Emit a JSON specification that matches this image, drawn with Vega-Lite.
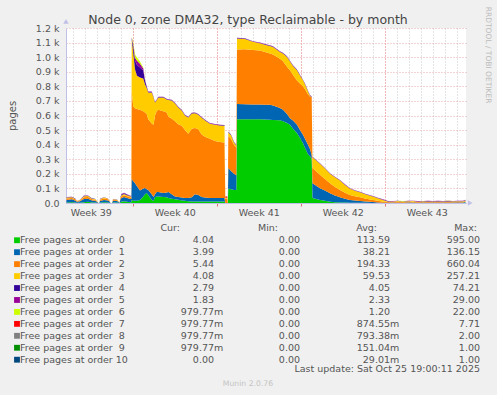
{
  "$schema": "https://vega.github.io/schema/vega-lite/v6.json",
  "width": 400,
  "height": 175,
  "autosize": {"type": "none"},
  "padding": {"left": 66, "top": 28, "right": 31, "bottom": 192},
  "background": "#f0f0f0",
  "title": {"text": "Node 0, zone DMA32, type Reclaimable - by month", "frame": "group", "anchor": "middle", "dx": -18, "offset": -20, "fontSize": 12.5, "fontWeight": "normal", "color": "#444444", "font": "DejaVu Sans"},
  "config": {"view": {"stroke": null, "fill": "white"}, "font": "DejaVu Sans"},
  "resolve": {"scale": {"x": "independent", "y": "independent", "color": "independent", "shape": "independent"}},
  "layer": [
    {
      "data": {"values": [
        {"t":"2025-09-23T11:36:00Z","o0":3,"o1":18,"o2":10,"o3":6,"o4":3,"o5":2,"o6":0,"o7":0},
        {"t":"2025-09-23T22:36:00Z","o0":5,"o1":20,"o2":10,"o3":5,"o4":2,"o5":1,"o6":0,"o7":0},
        {"t":"2025-09-24T04:36:00Z","o0":3,"o1":15,"o2":8,"o3":4,"o4":2,"o5":1,"o6":0,"o7":0},
        {"t":"2025-09-24T08:36:00Z","o0":2,"o1":7,"o2":4,"o3":2,"o4":1,"o5":0,"o6":0,"o7":0},
        {"t":"2025-09-24T14:36:00Z","o0":2,"o1":10,"o2":6,"o3":3,"o4":1,"o5":1,"o6":0,"o7":0},
        {"t":"2025-09-24T22:36:00Z","o0":5,"o1":22,"o2":12,"o3":8,"o4":2,"o5":2,"o6":0,"o7":0},
        {"t":"2025-09-25T06:36:00Z","o0":8,"o1":22,"o2":12,"o3":6,"o4":2,"o5":1,"o6":0,"o7":0},
        {"t":"2025-09-25T14:36:00Z","o0":4,"o1":14,"o2":8,"o3":4,"o4":2,"o5":1,"o6":0,"o7":0},
        {"t":"2025-09-25T20:36:00Z","o0":3,"o1":12,"o2":8,"o3":4,"o4":2,"o5":1,"o6":0,"o7":0},
        {"t":"2025-09-26T00:36:00Z","o0":2,"o1":6,"o2":4,"o3":2,"o4":0,"o5":0,"o6":0,"o7":0},
        {"t":"2025-09-26T03:36:00Z","o0":0,"o1":0,"o2":0,"o3":0,"o4":0,"o5":0,"o6":0,"o7":0},
        {"t":"2025-09-26T05:12:00Z","o0":0,"o1":0,"o2":0,"o3":0,"o4":0,"o5":0,"o6":0,"o7":0},
        {"t":"2025-09-26T06:36:00Z","o0":2,"o1":12,"o2":8,"o3":4,"o4":2,"o5":1,"o6":0,"o7":0},
        {"t":"2025-09-26T14:36:00Z","o0":5,"o1":16,"o2":10,"o3":6,"o4":2,"o5":1,"o6":0,"o7":0},
        {"t":"2025-09-26T22:36:00Z","o0":3,"o1":14,"o2":8,"o3":4,"o4":1,"o5":1,"o6":0,"o7":0},
        {"t":"2025-09-27T01:36:00Z","o0":2,"o1":8,"o2":5,"o3":2,"o4":1,"o5":0,"o6":0,"o7":0},
        {"t":"2025-09-27T03:36:00Z","o0":0,"o1":0,"o2":0,"o3":0,"o4":0,"o5":0,"o6":0,"o7":0},
        {"t":"2025-09-27T06:36:00Z","o0":0,"o1":0,"o2":0,"o3":0,"o4":0,"o5":0,"o6":0,"o7":0},
        {"t":"2025-09-27T08:36:00Z","o0":4,"o1":12,"o2":6,"o3":3,"o4":1,"o5":1,"o6":0,"o7":0},
        {"t":"2025-09-27T16:36:00Z","o0":3,"o1":10,"o2":6,"o3":3,"o4":2,"o5":0,"o6":0,"o7":0},
        {"t":"2025-09-27T19:36:00Z","o0":2,"o1":6,"o2":3,"o3":2,"o4":0,"o5":0,"o6":0,"o7":0},
        {"t":"2025-09-27T21:36:00Z","o0":0,"o1":0,"o2":0,"o3":0,"o4":0,"o5":0,"o6":0,"o7":0},
        {"t":"2025-09-27T23:36:00Z","o0":6,"o1":20,"o2":8,"o3":6,"o4":3,"o5":2,"o6":0,"o7":0},
        {"t":"2025-09-28T01:36:00Z","o0":10,"o1":25,"o2":10,"o3":8,"o4":5,"o5":3,"o6":0,"o7":0},
        {"t":"2025-09-28T06:36:00Z","o0":12,"o1":30,"o2":12,"o3":8,"o4":5,"o5":3,"o6":0,"o7":0},
        {"t":"2025-09-28T12:36:00Z","o0":8,"o1":26,"o2":12,"o3":8,"o4":4,"o5":2,"o6":0,"o7":0},
        {"t":"2025-09-28T19:36:00Z","o0":6,"o1":22,"o2":10,"o3":6,"o4":3,"o5":2,"o6":0,"o7":0},
        {"t":"2025-09-28T21:12:00Z","o0":6,"o1":22,"o2":10,"o3":6,"o4":3,"o5":2,"o6":0,"o7":0},
        {"t":"2025-09-28T22:00:00Z","o0":20,"o1":145,"o2":595,"o3":360,"o4":10,"o5":5,"o6":5,"o7":0},
        {"t":"2025-09-29T01:12:00Z","o0":18,"o1":132,"o2":510,"o3":370,"o4":40,"o5":15,"o6":15,"o7":0},
        {"t":"2025-09-29T04:36:00Z","o0":15,"o1":120,"o2":515,"o3":268,"o4":60,"o5":20,"o6":20,"o7":0},
        {"t":"2025-09-29T08:36:00Z","o0":15,"o1":100,"o2":530,"o3":227,"o4":74,"o5":29,"o6":22,"o7":0},
        {"t":"2025-09-29T14:36:00Z","o0":20,"o1":65,"o2":555,"o3":220,"o4":70,"o5":25,"o6":15,"o7":0},
        {"t":"2025-09-29T21:12:00Z","o0":45,"o1":55,"o2":530,"o3":223,"o4":55,"o5":15,"o6":5,"o7":0},
        {"t":"2025-09-30T00:36:00Z","o0":60,"o1":43,"o2":517,"o3":194,"o4":25,"o5":5,"o6":2,"o7":0},
        {"t":"2025-09-30T04:00:00Z","o0":68,"o1":27,"o2":515,"o3":179,"o4":8,"o5":3,"o6":0,"o7":0},
        {"t":"2025-09-30T07:12:00Z","o0":55,"o1":34,"o2":486,"o3":183,"o4":4,"o5":2,"o6":0,"o7":0},
        {"t":"2025-09-30T14:00:00Z","o0":20,"o1":40,"o2":485,"o3":213,"o4":4,"o5":2,"o6":0,"o7":0},
        {"t":"2025-09-30T17:36:00Z","o0":15,"o1":26,"o2":495,"o3":189,"o4":3,"o5":2,"o6":0,"o7":0},
        {"t":"2025-09-30T20:36:00Z","o0":40,"o1":20,"o2":540,"o3":90,"o4":3,"o5":2,"o6":0,"o7":0},
        {"t":"2025-10-01T00:00:00Z","o0":45,"o1":31,"o2":554,"o3":75,"o4":3,"o5":2,"o6":0,"o7":0},
        {"t":"2025-10-01T03:12:00Z","o0":45,"o1":31,"o2":564,"o3":83,"o4":4,"o5":2,"o6":0,"o7":0},
        {"t":"2025-10-01T13:12:00Z","o0":42,"o1":27,"o2":561,"o3":93,"o4":4,"o5":2,"o6":0,"o7":0},
        {"t":"2025-10-01T20:00:00Z","o0":40,"o1":32,"o2":548,"o3":90,"o4":3,"o5":2,"o6":0,"o7":0},
        {"t":"2025-10-01T23:36:00Z","o0":35,"o1":41,"o2":516,"o3":115,"o4":3,"o5":2,"o6":0,"o7":0},
        {"t":"2025-10-02T06:00:00Z","o0":30,"o1":30,"o2":520,"o3":123,"o4":3,"o5":2,"o6":0,"o7":0},
        {"t":"2025-10-02T12:36:00Z","o0":25,"o1":20,"o2":515,"o3":123,"o4":3,"o5":2,"o6":0,"o7":0},
        {"t":"2025-10-02T19:12:00Z","o0":22,"o1":19,"o2":499,"o3":115,"o4":3,"o5":2,"o6":0,"o7":0},
        {"t":"2025-10-03T02:00:00Z","o0":18,"o1":20,"o2":492,"o3":105,"o4":3,"o5":2,"o6":0,"o7":0},
        {"t":"2025-10-03T08:36:00Z","o0":15,"o1":19,"o2":466,"o3":100,"o4":3,"o5":2,"o6":0,"o7":0},
        {"t":"2025-10-03T15:12:00Z","o0":12,"o1":22,"o2":441,"o3":112,"o4":3,"o5":2,"o6":0,"o7":0},
        {"t":"2025-10-03T22:00:00Z","o0":10,"o1":30,"o2":470,"o3":104,"o4":3,"o5":2,"o6":0,"o7":0},
        {"t":"2025-10-04T04:36:00Z","o0":10,"o1":50,"o2":455,"o3":101,"o4":3,"o5":2,"o6":0,"o7":0},
        {"t":"2025-10-04T11:12:00Z","o0":10,"o1":45,"o2":450,"o3":100,"o4":3,"o5":2,"o6":0,"o7":0},
        {"t":"2025-10-04T18:00:00Z","o0":10,"o1":31,"o2":429,"o3":115,"o4":3,"o5":2,"o6":0,"o7":0},
        {"t":"2025-10-05T00:36:00Z","o0":10,"o1":28,"o2":417,"o3":111,"o4":3,"o5":2,"o6":0,"o7":0},
        {"t":"2025-10-05T10:36:00Z","o0":10,"o1":25,"o2":405,"o3":103,"o4":3,"o5":2,"o6":0,"o7":0},
        {"t":"2025-10-05T20:36:00Z","o0":10,"o1":24,"o2":391,"o3":111,"o4":3,"o5":2,"o6":0,"o7":0},
        {"t":"2025-10-06T06:36:00Z","o0":10,"o1":24,"o2":384,"o3":114,"o4":3,"o5":2,"o6":0,"o7":0},
        {"t":"2025-10-06T15:36:00Z","o0":10,"o1":24,"o2":381,"o3":115,"o4":3,"o5":2,"o6":0,"o7":0},
        {"t":"2025-10-06T17:12:00Z","o0":0,"o1":0,"o2":30,"o3":6,"o4":0,"o5":0,"o6":0,"o7":8},
        {"t":"2025-10-06T21:12:00Z","o0":0,"o1":0,"o2":30,"o3":6,"o4":0,"o5":0,"o6":0,"o7":8},
        {"t":"2025-10-06T22:12:00Z","o0":0,"o1":0,"o2":0,"o3":0,"o4":0,"o5":0,"o6":0,"o7":0},
        {"t":"2025-10-06T23:12:00Z","o0":100,"o1":140,"o2":220,"o3":25,"o4":3,"o5":2,"o6":0,"o7":0},
        {"t":"2025-10-07T04:36:00Z","o0":95,"o1":125,"o2":220,"o3":25,"o4":3,"o5":2,"o6":0,"o7":0},
        {"t":"2025-10-07T10:36:00Z","o0":90,"o1":110,"o2":200,"o3":15,"o4":3,"o5":2,"o6":0,"o7":0},
        {"t":"2025-10-07T15:12:00Z","o0":90,"o1":100,"o2":190,"o3":15,"o4":3,"o5":2,"o6":0,"o7":0},
        {"t":"2025-10-07T16:36:00Z","o0":575,"o1":104,"o2":373,"o3":76,"o4":3,"o5":2,"o6":0,"o7":0},
        {"t":"2025-10-08T08:36:00Z","o0":575,"o1":103,"o2":377,"o3":70,"o4":3,"o5":2,"o6":0,"o7":0},
        {"t":"2025-10-09T00:36:00Z","o0":575,"o1":100,"o2":375,"o3":55,"o4":3,"o5":2,"o6":0,"o7":0},
        {"t":"2025-10-09T14:36:00Z","o0":574,"o1":101,"o2":370,"o3":50,"o4":3,"o5":2,"o6":0,"o7":0},
        {"t":"2025-10-10T00:36:00Z","o0":572,"o1":102,"o2":361,"o3":50,"o4":3,"o5":2,"o6":0,"o7":0},
        {"t":"2025-10-10T10:36:00Z","o0":571,"o1":103,"o2":351,"o3":52,"o4":3,"o5":2,"o6":0,"o7":0},
        {"t":"2025-10-10T16:36:00Z","o0":570,"o1":98,"o2":350,"o3":52,"o4":3,"o5":2,"o6":0,"o7":0},
        {"t":"2025-10-11T06:36:00Z","o0":568,"o1":83,"o2":339,"o3":45,"o4":3,"o5":2,"o6":0,"o7":0},
        {"t":"2025-10-11T12:36:00Z","o0":560,"o1":80,"o2":332,"o3":53,"o4":3,"o5":2,"o6":0,"o7":0},
        {"t":"2025-10-11T20:36:00Z","o0":548,"o1":62,"o2":325,"o3":66,"o4":3,"o5":2,"o6":0,"o7":0},
        {"t":"2025-10-12T02:36:00Z","o0":536,"o1":46,"o2":328,"o3":60,"o4":3,"o5":2,"o6":0,"o7":0},
        {"t":"2025-10-12T08:36:00Z","o0":510,"o1":55,"o2":315,"o3":60,"o4":3,"o5":2,"o6":0,"o7":0},
        {"t":"2025-10-12T16:36:00Z","o0":480,"o1":56,"o2":304,"o3":70,"o4":3,"o5":2,"o6":0,"o7":0},
        {"t":"2025-10-12T22:36:00Z","o0":446,"o1":54,"o2":320,"o3":55,"o4":3,"o5":2,"o6":0,"o7":0},
        {"t":"2025-10-13T04:36:00Z","o0":410,"o1":58,"o2":332,"o3":41,"o4":3,"o5":2,"o6":0,"o7":0},
        {"t":"2025-10-13T08:36:00Z","o0":378,"o1":62,"o2":340,"o3":35,"o4":3,"o5":2,"o6":0,"o7":0},
        {"t":"2025-10-13T14:36:00Z","o0":335,"o1":64,"o2":346,"o3":20,"o4":3,"o5":2,"o6":0,"o7":0},
        {"t":"2025-10-13T18:36:00Z","o0":320,"o1":50,"o2":361,"o3":4,"o4":3,"o5":2,"o6":0,"o7":0},
        {"t":"2025-10-13T22:00:00Z","o0":300,"o1":30,"o2":395,"o3":1,"o4":3,"o5":2,"o6":0,"o7":0},
        {"t":"2025-10-13T23:36:00Z","o0":34,"o1":101,"o2":105,"o3":74,"o4":2,"o5":2,"o6":0,"o7":0},
        {"t":"2025-10-14T14:36:00Z","o0":21,"o1":80,"o2":92,"o3":76,"o4":2,"o5":2,"o6":0,"o7":0},
        {"t":"2025-10-15T00:36:00Z","o0":15,"o1":70,"o2":80,"o3":71,"o4":2,"o5":2,"o6":0,"o7":0},
        {"t":"2025-10-15T10:36:00Z","o0":9,"o1":58,"o2":68,"o3":65,"o4":2,"o5":2,"o6":0,"o7":0},
        {"t":"2025-10-15T20:36:00Z","o0":6,"o1":46,"o2":58,"o3":66,"o4":2,"o5":2,"o6":0,"o7":0},
        {"t":"2025-10-16T06:36:00Z","o0":4,"o1":35,"o2":50,"o3":65,"o4":2,"o5":2,"o6":0,"o7":0},
        {"t":"2025-10-16T16:36:00Z","o0":3,"o1":27,"o2":40,"o3":54,"o4":2,"o5":2,"o6":0,"o7":0},
        {"t":"2025-10-17T02:36:00Z","o0":2,"o1":19,"o2":34,"o3":42,"o4":2,"o5":2,"o6":0,"o7":0},
        {"t":"2025-10-17T12:36:00Z","o0":2,"o1":15,"o2":29,"o3":38,"o4":2,"o5":2,"o6":0,"o7":0},
        {"t":"2025-10-17T22:36:00Z","o0":1,"o1":13,"o2":25,"o3":35,"o4":2,"o5":2,"o6":0,"o7":0},
        {"t":"2025-10-18T10:36:00Z","o0":1,"o1":9,"o2":20,"o3":28,"o4":2,"o5":2,"o6":0,"o7":0},
        {"t":"2025-10-19T00:36:00Z","o0":0,"o1":7,"o2":14,"o3":23,"o4":2,"o5":2,"o6":0,"o7":0},
        {"t":"2025-10-19T10:36:00Z","o0":0,"o1":4,"o2":11,"o3":17,"o4":2,"o5":2,"o6":0,"o7":0},
        {"t":"2025-10-19T20:36:00Z","o0":0,"o1":2,"o2":7,"o3":12,"o4":2,"o5":2,"o6":0,"o7":0},
        {"t":"2025-10-20T06:36:00Z","o0":0,"o1":2,"o2":6,"o3":3,"o4":2,"o5":1,"o6":0,"o7":0},
        {"t":"2025-10-20T16:36:00Z","o0":1,"o1":3,"o2":4,"o3":2,"o4":1,"o5":2,"o6":1,"o7":0},
        {"t":"2025-10-21T02:36:00Z","o0":0,"o1":2,"o2":7,"o3":4,"o4":2,"o5":1,"o6":0,"o7":0},
        {"t":"2025-10-21T12:36:00Z","o0":1,"o1":1,"o2":5,"o3":2,"o4":1,"o5":1,"o6":2,"o7":0},
        {"t":"2025-10-21T22:36:00Z","o0":0,"o1":3,"o2":6,"o3":3,"o4":2,"o5":2,"o6":0,"o7":0},
        {"t":"2025-10-22T08:36:00Z","o0":2,"o1":2,"o2":5,"o3":4,"o4":1,"o5":1,"o6":0,"o7":0},
        {"t":"2025-10-22T18:36:00Z","o0":0,"o1":1,"o2":6,"o3":2,"o4":2,"o5":2,"o6":1,"o7":0},
        {"t":"2025-10-23T04:36:00Z","o0":1,"o1":3,"o2":5,"o3":3,"o4":1,"o5":1,"o6":0,"o7":0},
        {"t":"2025-10-23T14:36:00Z","o0":0,"o1":2,"o2":7,"o3":2,"o4":2,"o5":2,"o6":0,"o7":0},
        {"t":"2025-10-24T00:36:00Z","o0":1,"o1":2,"o2":5,"o3":3,"o4":1,"o5":1,"o6":1,"o7":0},
        {"t":"2025-10-24T10:36:00Z","o0":0,"o1":1,"o2":6,"o3":4,"o4":2,"o5":2,"o6":0,"o7":0},
        {"t":"2025-10-24T20:36:00Z","o0":1,"o1":3,"o2":5,"o3":2,"o4":1,"o5":1,"o6":0,"o7":0},
        {"t":"2025-10-25T06:36:00Z","o0":0,"o1":2,"o2":6,"o3":3,"o4":2,"o5":2,"o6":2,"o7":0},
        {"t":"2025-10-25T16:36:00Z","o0":1,"o1":2,"o2":7,"o3":2,"o4":1,"o5":1,"o6":0,"o7":0},
        {"t":"2025-10-26T02:36:00Z","o0":0,"o1":3,"o2":5,"o3":4,"o4":2,"o5":2,"o6":0,"o7":0},
        {"t":"2025-10-26T12:36:00Z","o0":1,"o1":2,"o2":6,"o3":3,"o4":2,"o5":1,"o6":1,"o7":0},
        {"t":"2025-10-26T17:36:00Z","o0":4,"o1":4,"o2":5,"o3":4,"o4":3,"o5":2,"o6":0,"o7":0}
      ]},
      "transform": [{"fold": ["o0","o1","o2","o3","o4","o5","o6","o7"], "as": ["key","v"]}],
      "mark": {"type": "area", "interpolate": "linear"},
      "encoding": {
        "x": {"field": "t", "type": "temporal",
              "scale": {"type": "utc", "domain": [{"year":2025,"month":9,"date":23,"hours":10,"minutes":36,"utc":true},{"year":2025,"month":10,"date":26,"hours":18,"minutes":36,"utc":true}]},
              "axis": {"title": null, "tickCount": {"interval": "day", "step": 1}, "grid": true, "gridDash": [1,2],
                       "gridColor": {"condition": {"test": "utcday(datum.value)==1", "value": "#e07070"}, "value": "#c8c8c8"},
                       "ticks": true, "tickSize": 3, "tickColor": "#e07070",
                       "tickOpacity": {"condition": {"test": "utcday(datum.value)==1", "value": 1}, "value": 0},
                       "labelExpr": "utcday(datum.value)==4 ? 'Week ' + utcFormat(datum.value, '%V') : ''",
                       "labelOffset": 6, "labelFlush": false, "labelOverlap": false, "labelBound": false, "labelPadding": 1,
                       "labelFont": "DejaVu Sans", "labelFontSize": 9.5, "labelColor": "#555555",
                       "domainColor": "#c0c0e8"}},
        "y": {"field": "v", "type": "quantitative", "stack": "zero",
              "scale": {"domain": [0, 1200], "nice": false},
              "axis": {"title": "pages", "values": [0,100,200,300,400,500,600,700,800,900,1000,1100,1200],
                       "labelExpr": "datum.value == 0 ? '0.0' : format(datum.value/1000, '.1f') + ' k'",
                       "grid": true, "gridColor": "#e8a8a8", "gridDash": [1,2], "ticks": false, "labelPadding": 7,
                       "labelFont": "DejaVu Sans", "labelFontSize": 9.5, "labelColor": "#555555",
                       "titleFont": "DejaVu Sans", "titleFontSize": 10, "titleFontWeight": "normal", "titleColor": "#555555",
                       "titleX": -54, "titleBaseline": "middle", "domainColor": "#c0c0e8"}},
        "color": {"field": "key", "type": "nominal",
                  "scale": {"domain": ["o0","o1","o2","o3","o4","o5","o6","o7"], "range": ["#00CC00","#0066B3","#FF8000","#FFCC00","#330099","#990099","#CCFF00","#FF0000"]},
                  "legend": null},
        "order": {"field": "key", "type": "ordinal"}
      }
    },
    {
      "data": {"values": [{"t": "2025-09-23T10:36:00Z", "v": 1245, "s": "up"}, {"t": "2025-10-27T03:00:00Z", "v": 0, "s": "right"}]},
      "mark": {"type": "point", "size": 30, "filled": true, "color": "#c0c0e8", "opacity": 1},
      "encoding": {
        "x": {"field": "t", "type": "temporal", "axis": null, "scale": {"type": "utc", "domain": [{"year":2025,"month":9,"date":23,"hours":10,"minutes":36,"utc":true},{"year":2025,"month":10,"date":26,"hours":18,"minutes":36,"utc":true}]}},
        "y": {"field": "v", "type": "quantitative", "axis": null, "scale": {"domain": [0, 1200], "nice": false}},
        "shape": {"field": "s", "type": "nominal", "legend": null, "scale": {"domain": ["up", "right"], "range": ["triangle-up", "triangle-right"]}}
      }
    },
    {
      "data": {"values": [
        {"k":0,"name":"Free pages at order \u00a00","cur":"4.04","cs":"","min":"0.00","avg":"113.59","as":"","max":"595.00"},
        {"k":1,"name":"Free pages at order \u00a01","cur":"3.99","cs":"","min":"0.00","avg":"38.21","as":"","max":"136.15"},
        {"k":2,"name":"Free pages at order \u00a02","cur":"5.44","cs":"","min":"0.00","avg":"194.33","as":"","max":"660.04"},
        {"k":3,"name":"Free pages at order \u00a03","cur":"4.08","cs":"","min":"0.00","avg":"59.53","as":"","max":"257.21"},
        {"k":4,"name":"Free pages at order \u00a04","cur":"2.79","cs":"","min":"0.00","avg":"4.05","as":"","max":"74.21"},
        {"k":5,"name":"Free pages at order \u00a05","cur":"1.83","cs":"","min":"0.00","avg":"2.33","as":"","max":"29.00"},
        {"k":6,"name":"Free pages at order \u00a06","cur":"979.77","cs":"m","min":"0.00","avg":"1.20","as":"","max":"22.00"},
        {"k":7,"name":"Free pages at order \u00a07","cur":"979.77","cs":"m","min":"0.00","avg":"874.55","as":"m","max":"7.71"},
        {"k":8,"name":"Free pages at order \u00a08","cur":"979.77","cs":"m","min":"0.00","avg":"793.38","as":"m","max":"2.00"},
        {"k":9,"name":"Free pages at order \u00a09","cur":"979.77","cs":"m","min":"0.00","avg":"151.04","as":"m","max":"1.00"},
        {"k":10,"name":"Free pages at order 10","cur":"0.00","cs":"","min":"0.00","avg":"29.01","as":"m","max":"1.00"}
      ]},
      "layer": [
        {"mark": {"type": "square", "size": 34, "filled": true, "opacity": 1},
         "encoding": {
           "x": {"datum": 0, "type": "quantitative", "axis": null, "scale": {"domain": [0,1,2,3,4,5,6,7,8,9,10,11], "range": [-49,-46,114,148,182,212,234,311,324,411,414,421.5], "zero": false, "nice": false}},
           "y": {"field": "k", "type": "quantitative", "axis": null, "scale": {"domain": [-1, 10], "range": [200.3, 331.7], "zero": false, "nice": false}},
           "color": {"field": "k", "type": "nominal", "legend": null, "scale": {"domain": [0,1,2,3,4,5,6,7,8,9,10], "range": ["#00CC00","#0066B3","#FF8000","#FFCC00","#330099","#990099","#CCFF00","#FF0000","#808080","#008F00","#00487D"]}}
         }},
        {"mark": {"type": "text", "align": "left", "baseline": "middle", "fontSize": 9.5, "color": "#555555"},
         "encoding": {"x": {"datum": 1, "type": "quantitative"}, "y": {"field": "k", "type": "quantitative"}, "text": {"field": "name"}}},
        {"mark": {"type": "text", "align": "right", "baseline": "middle", "fontSize": 9.5, "color": "#555555"},
         "encoding": {"x": {"datum": 3, "type": "quantitative"}, "y": {"field": "k", "type": "quantitative"}, "text": {"field": "cur"}}},
        {"mark": {"type": "text", "align": "left", "baseline": "middle", "fontSize": 9.5, "color": "#555555"},
         "encoding": {"x": {"datum": 3, "type": "quantitative"}, "y": {"field": "k", "type": "quantitative"}, "text": {"field": "cs"}}},
        {"mark": {"type": "text", "align": "right", "baseline": "middle", "fontSize": 9.5, "color": "#555555"},
         "encoding": {"x": {"datum": 6, "type": "quantitative"}, "y": {"field": "k", "type": "quantitative"}, "text": {"field": "min"}}},
        {"mark": {"type": "text", "align": "right", "baseline": "middle", "fontSize": 9.5, "color": "#555555"},
         "encoding": {"x": {"datum": 8, "type": "quantitative"}, "y": {"field": "k", "type": "quantitative"}, "text": {"field": "avg"}}},
        {"mark": {"type": "text", "align": "left", "baseline": "middle", "fontSize": 9.5, "color": "#555555"},
         "encoding": {"x": {"datum": 8, "type": "quantitative"}, "y": {"field": "k", "type": "quantitative"}, "text": {"field": "as"}}},
        {"mark": {"type": "text", "align": "right", "baseline": "middle", "fontSize": 9.5, "color": "#555555"},
         "encoding": {"x": {"datum": 10, "type": "quantitative"}, "y": {"field": "k", "type": "quantitative"}, "text": {"field": "max"}}},
        {"data": {"values": [{"h":"Cur:","c":2},{"h":"Min:","c":5},{"h":"Avg:","c":7},{"h":"Max:","c":9}]},
         "mark": {"type": "text", "align": "right", "baseline": "middle", "fontSize": 9.5, "color": "#555555"},
         "encoding": {"x": {"field": "c", "type": "quantitative"}, "y": {"datum": -1, "type": "quantitative"}, "text": {"field": "h"}}},
        {"data": {"values": [{"note": "Last update: Sat Oct 25 19:00:11 2025"}]},
         "mark": {"type": "text", "align": "right", "baseline": "middle", "fontSize": 9.5, "color": "#555555"},
         "encoding": {"x": {"datum": 10, "type": "quantitative"}, "y": {"datum": 10.8, "type": "quantitative"}, "text": {"field": "note"}}},
        {"data": {"values": [{"note": "Munin 2.0.76"}]},
         "mark": {"type": "text", "align": "center", "baseline": "middle", "fontSize": 7.7, "color": "#c4c4c4"},
         "encoding": {"x": {"datum": 4, "type": "quantitative"}, "y": {"datum": 12.05, "type": "quantitative"}, "text": {"field": "note"}}},
        {"data": {"values": [{"note": "RRDTOOL / TOBI OETIKER"}]},
         "mark": {"type": "text", "align": "center", "baseline": "middle", "fontSize": 7.5, "angle": 90, "color": "#bbbbbb"},
         "encoding": {"x": {"datum": 11, "type": "quantitative"}, "y": {"datum": -15.5, "type": "quantitative"}, "text": {"field": "note"}}}
      ]
    }
  ]
}
